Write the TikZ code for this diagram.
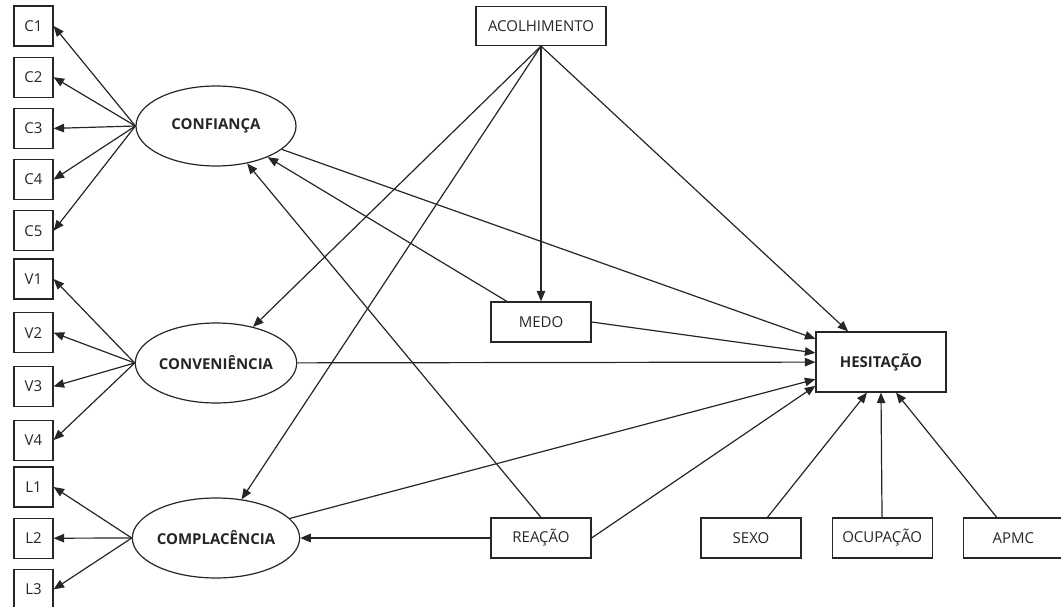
\documentclass[tikz,border=0pt]{standalone}
\usepackage{fontspec}
\setmainfont{Open Sans}
\usepackage{tikz}
\usetikzlibrary{positioning}
\usetikzlibrary{shapes.geometric}
\usetikzlibrary{arrows.meta}
\tikzset{%
  seta/.style = {-{Triangle[length=10.5pt,width=8.5pt]}},
  ind/.style = {rectangle,draw,minimum width=39pt,
        minimum height=40pt,inner sep=0pt},
  obs/.style = {rectangle,draw,minimum width=100pt,
        minimum height=40pt,inner sep=0pt},
  lat/.style = {ellipse,draw,minimum width=160pt,
        minimum height=80pt,inner sep=0pt,font=\fontsize{15}{18}\selectfont\bfseries}
}

\begin{document}
\begin{tikzpicture}[x=1pt,y=-1pt,line width=1.2pt,font=\fontsize{15}{18}\selectfont,color=black!85]
                            \useasboundingbox (0,0) rectangle (1061,607);
                            % indicadores
                            \node[ind] (c1) at (33.5,26) {C1};
                            \node[ind] (c2) [below=10pt of c1] {C2};
                            \node[ind] (c3) [below=10pt of c2] {C3};
                            \node[ind] (c4) [below=10pt of c3] {C4};
                            \node[ind] (c5) [below=10pt of c4] {C5};
                            \node[ind] (v1) at (33.5,279) {V1};
                            \node[ind] (v2) [below=12.5pt of v1] {V2};
                            \node[ind] (v3) [below=12.5pt of v2] {V3};
                            \node[ind] (v4) [below=12.5pt of v3] {V4};
                            \node[ind] (l1) at (33.5,487) {L1};
                            \node[ind] (l2) [below=10pt of l1] {L2};
                            \node[ind] (l3) [below=10pt of l2] {L3};

                            % latentes
                            \node[lat] (conf) at (216,126) {CONFIANÇA};
                            \node[lat] (conv) at (216,363) {CONVENIÊNCIA};
                            \node[lat] (comp) at (216,538) {COMPLACÊNCIA};

                            % observadas
                            \node[obs,minimum width=130pt,minimum height=39pt] (acol) at (541,26) {ACOLHIMENTO};
                            \node[obs] (medo) at (541,322) {MEDO};
                            \node[obs,minimum width=130pt,minimum height=60pt,font=\fontsize{15}{18}\selectfont\bfseries] (hes) at (881,362) {HESITAÇÃO};
                            \node[obs] (reacao) at (541,538) {REAÇÃO};
                            \node[obs] (sexo) at (751,538) {SEXO};
                            \node[obs] (ocup) [right=30pt of sexo] {OCUPAÇÃO};
                            \node[obs] (apmc) [right=30pt of ocup] {APMC};

                            \path[seta] (conf.west) edge (c1.east)
                                    (conf.west) edge (c2.east)
                                    (conf.west) edge (c3.east)
                                    (conf.west) edge (c4.east)
                                    (conf.west) edge (c5.east)
                                    (conv.west) edge (v1.east)
                                    (conv.west) edge (v2.east)
                                    (conv.west) edge (v3.east)
                                    (conv.west) edge (v4.east)
                                    (comp.west) edge (l1.east)
                                    (comp.west) edge (l2.east)
                                    (comp.west) edge (l3.east);

                            \path[seta] (acol.south) edge (medo.north)
                                    (acol.south) edge (conv)
                                    (acol.south) edge (comp)
                                    (acol.south) edge (hes)
                                    (medo) edge (conf)
                                    (reacao.north) edge (conf)
                                    (reacao) edge (comp)
                                    (conf) edge (hes)
                                    (conv) edge (hes)
                                    (comp) edge (hes)
                                    (medo.east) edge (hes)
                                    (reacao.east) edge (hes.200)
                                    (sexo) edge ([xshift=-14pt]hes.south)
                                    (ocup) edge (hes.south)
                                    (apmc) edge ([xshift=15pt]hes.south);
                        \end{tikzpicture}
\end{document}
